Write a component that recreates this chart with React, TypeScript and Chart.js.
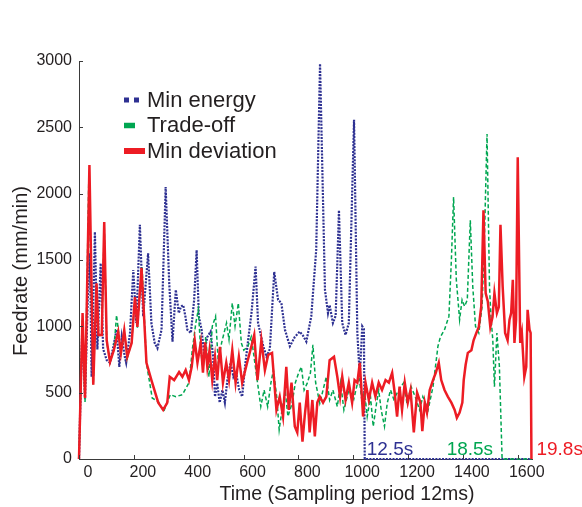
import React, { useEffect, useRef } from "react";
import { Chart, registerables } from "chart.js";

Chart.register(...registerables);

const FONT = "'Liberation Sans', Arial, Helvetica, sans-serif";
const TEXT = "#231f20";
const BLUE = "#2e3192";
const GREEN = "#00a651";
const RED = "#ed1c24";

const xTicks = [0, 200, 400, 600, 800, 1000, 1200, 1400, 1600];
const yTicks = [0, 500, 1000, 1500, 2000, 2500, 3000];

const seriesNames = ["Min energy", "Trade-off", "Min deviation"];
const endLabels = ["12.5s", "18.5s", "19.8s"];
const endTimes = [1042, 1543, 1650];

const axisTitleX = "Time (Sampling period 12ms)";
const axisTitleY = "Feedrate (mm/min)";

// [time sample, feedrate]
const minEnergy: [number, number][] = [
  [0, 0], [12, 1000], [22, 450], [32, 1200], [40, 1550], [46, 620], [58, 1712], [67, 825],
  [79, 1475], [88, 830], [101, 745], [113, 725], [125, 845], [137, 975], [147, 695], [156, 920],
  [167, 770], [172, 725], [186, 950], [198, 1425], [209, 1025], [222, 1765], [234, 1075],
  [252, 1550], [264, 1025], [276, 875], [286, 835], [301, 975], [316, 2050], [329, 1325],
  [341, 885], [353, 1275], [364, 1100], [372, 1150], [380, 1160], [388, 1075], [395, 975],
  [408, 950], [420, 1200], [429, 1575], [437, 1075], [447, 975], [456, 800], [468, 920],
  [480, 960], [489, 770], [496, 470], [504, 570], [513, 425], [523, 520], [532, 425],
  [541, 595], [553, 725], [563, 620], [572, 660], [584, 520], [595, 470], [607, 725],
  [620, 950], [629, 1100], [644, 1450], [653, 1025], [672, 850], [684, 770], [696, 830],
  [712, 1410], [726, 1200], [738, 1175], [751, 975], [769, 850], [787, 920], [805, 960],
  [817, 930], [829, 885], [847, 1075], [865, 1575], [879, 2980], [897, 1275], [908, 1100],
  [914, 1160], [926, 1025], [936, 1080], [948, 1875], [960, 1025], [972, 935], [984, 1025],
  [1003, 2557], [1015, 950], [1024, 620], [1033, 1000], [1039, 980], [1042, 0], [1650, 0],
];

const tradeOff: [number, number][] = [
  [0, 0], [12, 1050], [22, 430], [36, 2150], [52, 560], [64, 1300], [72, 930], [83, 930],
  [92, 1760], [101, 880], [113, 740], [127, 820], [137, 1085], [153, 800], [165, 960],
  [176, 760], [192, 880], [204, 1200], [213, 990], [230, 1450], [246, 720], [267, 460],
  [290, 430], [309, 360], [333, 485], [353, 470], [377, 485], [401, 575], [413, 820],
  [426, 1025], [435, 1125], [444, 820], [452, 670], [462, 920], [474, 620], [486, 1000],
  [498, 1075], [508, 725], [520, 875], [529, 950], [538, 1025], [547, 900], [559, 1175],
  [569, 1000], [581, 1175], [592, 875], [601, 820], [616, 850], [628, 920], [635, 820],
  [651, 575], [663, 395], [675, 520], [688, 395], [700, 575], [709, 670], [721, 470],
  [730, 220], [742, 395], [753, 495], [762, 320], [777, 420], [789, 575], [801, 650],
  [811, 695], [821, 520], [832, 570], [844, 650], [853, 860], [863, 575], [878, 420],
  [890, 520], [902, 620], [914, 445], [926, 520], [942, 395], [954, 575], [966, 370],
  [984, 520], [1002, 450], [1021, 620], [1033, 420], [1041, 520], [1051, 320], [1063, 470],
  [1073, 245], [1085, 420], [1093, 520], [1102, 370], [1114, 245], [1124, 420], [1136, 520],
  [1148, 450], [1166, 520], [1184, 575], [1196, 420], [1211, 545], [1226, 470], [1242, 370],
  [1254, 470], [1273, 370], [1291, 545], [1309, 850], [1318, 920], [1333, 975], [1349, 1075],
  [1358, 1500], [1366, 1975], [1376, 1350], [1384, 1150], [1388, 1050], [1397, 1200],
  [1406, 1150], [1416, 1200], [1427, 1800], [1436, 1300], [1446, 1000], [1458, 950],
  [1470, 1150], [1479, 1700], [1488, 2450], [1497, 1300], [1503, 1050], [1509, 900],
  [1515, 545], [1524, 950], [1533, 700], [1543, 0], [1650, 0],
];

const minDeviation: [number, number][] = [
  [0, 0], [13, 1100], [22, 460], [38, 2215], [52, 560], [64, 1325], [71, 935], [83, 935],
  [92, 1786], [101, 895], [113, 730], [127, 820], [143, 960], [153, 800], [165, 970],
  [176, 770], [192, 875], [204, 1220], [213, 995], [228, 1440], [246, 725], [264, 595],
  [289, 425], [307, 370], [322, 425], [331, 620], [347, 595], [365, 655], [377, 620],
  [389, 670], [401, 595], [411, 695], [422, 895], [432, 725], [444, 875], [452, 650],
  [460, 880], [468, 695], [476, 820], [486, 595], [496, 770], [504, 595], [514, 845],
  [525, 575], [537, 725], [547, 595], [559, 820], [571, 575], [583, 770], [595, 575],
  [613, 725], [625, 820], [639, 935], [651, 595], [665, 895], [678, 670], [690, 785],
  [704, 800], [720, 370], [732, 470], [744, 320], [756, 695], [765, 370], [775, 575],
  [787, 245], [796, 200], [805, 425], [815, 130], [823, 320], [833, 520], [841, 200],
  [851, 445], [860, 170], [869, 425], [878, 470], [890, 425], [902, 470], [914, 745],
  [930, 770], [942, 620], [952, 470], [960, 620], [972, 445], [984, 575], [996, 425],
  [1005, 595], [1015, 575], [1024, 725], [1036, 320], [1045, 575], [1057, 445], [1069, 575],
  [1081, 470], [1093, 575], [1105, 520], [1118, 595], [1130, 575], [1142, 650], [1150, 520],
  [1160, 320], [1169, 545], [1178, 370], [1188, 575], [1199, 425], [1209, 520], [1221, 200],
  [1233, 500], [1245, 425], [1252, 210], [1261, 425], [1269, 350], [1279, 520], [1291, 595],
  [1301, 650], [1312, 725], [1321, 595], [1333, 520], [1345, 470], [1358, 425], [1370, 370],
  [1378, 310], [1388, 350], [1398, 425], [1403, 595], [1410, 710], [1418, 800], [1431, 820],
  [1439, 895], [1449, 950], [1458, 995], [1467, 1150], [1475, 1875], [1483, 1250],
  [1491, 1185], [1500, 995], [1508, 1070], [1515, 1250], [1524, 1100], [1531, 1145],
  [1537, 1765], [1545, 1300], [1554, 950], [1563, 895], [1570, 1050], [1576, 1100],
  [1582, 1350], [1588, 875], [1594, 1050], [1600, 2275], [1609, 875], [1615, 950],
  [1624, 620], [1631, 695], [1636, 1125], [1643, 975], [1647, 950], [1650, 0],
];

const toXY = (pts: [number, number][]) => pts.map(([x, y]) => ({ x, y }));

const decorPlugin = {
  id: "decor",
  afterDraw(chart: any) {
    const { ctx, chartArea } = chart;
    const xs = chart.scales.x;
    const ys = chart.scales.y;
    const { left, bottom, top } = chartArea;
    ctx.save();
    // inward tick marks
    ctx.strokeStyle = "#3a3a3a";
    ctx.lineWidth = 1;
    ctx.setLineDash([]);
    ctx.beginPath();
    yTicks.forEach((v) => {
      const y = Math.round(ys.getPixelForValue(v)) + 0.5;
      ctx.moveTo(left, y);
      ctx.lineTo(left + 4, y);
    });
    xTicks.forEach((v) => {
      const x = Math.round(xs.getPixelForValue(v)) + 0.5;
      ctx.moveTo(x, bottom);
      ctx.lineTo(x, bottom - 4);
    });
    ctx.stroke();

    // legend
    const colors = [BLUE, GREEN, RED];
    const lx = left + 45;
    const ty = top + 45.5;
    ctx.font = `22px ${FONT}`;
    ctx.textBaseline = "alphabetic";
    ctx.textAlign = "left";
    seriesNames.forEach((name, i) => {
      const by = ty + i * 25.5;
      const cy = by - 6.5;
      ctx.strokeStyle = colors[i];
      ctx.lineCap = "butt";
      if (i === 0) {
        ctx.lineWidth = 5;
        ctx.setLineDash([5, 5]);
        ctx.beginPath();
        ctx.moveTo(lx, cy);
        ctx.lineTo(lx + 16, cy);
        ctx.stroke();
      } else if (i === 1) {
        ctx.lineWidth = 5.5;
        ctx.setLineDash([]);
        ctx.beginPath();
        ctx.moveTo(lx, cy);
        ctx.lineTo(lx + 11, cy);
        ctx.stroke();
      } else {
        ctx.lineWidth = 6;
        ctx.setLineDash([]);
        ctx.beginPath();
        ctx.moveTo(lx, cy);
        ctx.lineTo(lx + 21, cy);
        ctx.stroke();
      }
      ctx.fillStyle = TEXT;
      ctx.fillText(name, left + 68, by);
    });

    // end-time labels
    ctx.font = `19px ${FONT}`;
    const baseY = ys.getPixelForValue(0) - 4;
    const offs = [2, -9, 5];
    const aligns = ["left", "right", "left"];
    endLabels.forEach((lab, i) => {
      ctx.fillStyle = colors[i];
      ctx.textAlign = aligns[i];
      ctx.fillText(lab, xs.getPixelForValue(endTimes[i]) + offs[i], baseY);
    });

    // axis titles
    ctx.fillStyle = TEXT;
    ctx.font = `19.5px ${FONT}`;
    ctx.textAlign = "center";
    ctx.textBaseline = "alphabetic";
    ctx.fillText(axisTitleX, 347, 500);
    ctx.save();
    ctx.translate(27, 271);
    ctx.rotate(-Math.PI / 2);
    ctx.font = `20px ${FONT}`;
    ctx.fillText(axisTitleY, 0, 0);
    ctx.restore();
    ctx.restore();
  },
};

export default function App() {
  const ref = useRef<HTMLCanvasElement | null>(null);

  useEffect(() => {
    if (!ref.current) return;
    const chart = new Chart(ref.current, {
      type: "line",
      data: {
        datasets: [
          {
            label: seriesNames[2],
            data: toXY(minDeviation),
            borderColor: RED,
            borderWidth: 2.5,
            pointRadius: 0,
            tension: 0,
            order: 0,
            clip: 8,
          },
          {
            label: seriesNames[1],
            data: toXY(tradeOff),
            borderColor: GREEN,
            borderWidth: 1.5,
            borderDash: [4, 2.5],
            pointRadius: 0,
            tension: 0,
            order: 1,
            clip: 8,
          },
          {
            label: seriesNames[0],
            data: toXY(minEnergy),
            borderColor: BLUE,
            borderWidth: 2.2,
            borderDash: [2, 1.3],
            pointRadius: 0,
            tension: 0,
            order: 2,
            clip: 8,
          },
        ],
      },
      options: {
        animation: false,
        responsive: true,
        maintainAspectRatio: false,
        layout: { padding: { left: 0, right: 50, top: 61, bottom: 0 } },
        plugins: {
          legend: { display: false },
          tooltip: { enabled: false },
          title: { display: false },
        },
        scales: {
          x: {
            type: "linear",
            min: 0,
            max: 1652,
            afterBuildTicks: (scale: any) => {
              scale.ticks = xTicks.map((v) => ({ value: v }));
            },
            afterFit: (scale: any) => {
              scale.height = 48;
            },
            grid: { display: true, drawOnChartArea: false, drawTicks: false },
            border: { display: true, color: "#3a3a3a", width: 1 },
            ticks: {
              color: TEXT,
              font: { family: FONT, size: 16 },
              padding: 4,
              labelOffset: 9,
              maxRotation: 0,
              autoSkip: false,
              callback: (v: any) => String(v),
            },
          },
          y: {
            type: "linear",
            min: 0,
            max: 3000,
            afterBuildTicks: (scale: any) => {
              scale.ticks = yTicks.map((v) => ({ value: v }));
            },
            afterFit: (scale: any) => {
              scale.width = 79;
            },
            grid: { display: true, drawOnChartArea: false, drawTicks: false },
            border: { display: true, color: "#3a3a3a", width: 1 },
            ticks: {
              color: TEXT,
              font: { family: FONT, size: 16 },
              padding: 7,
              autoSkip: false,
              callback: (v: any) => String(v),
            },
          },
        },
      },
      plugins: [decorPlugin],
    });
    return () => chart.destroy();
  }, []);

  return (
    <div style={{ position: "fixed", left: 0, top: 0, width: 582, height: 507, background: "#fff" }}>
      <canvas ref={ref} />
    </div>
  );
}
